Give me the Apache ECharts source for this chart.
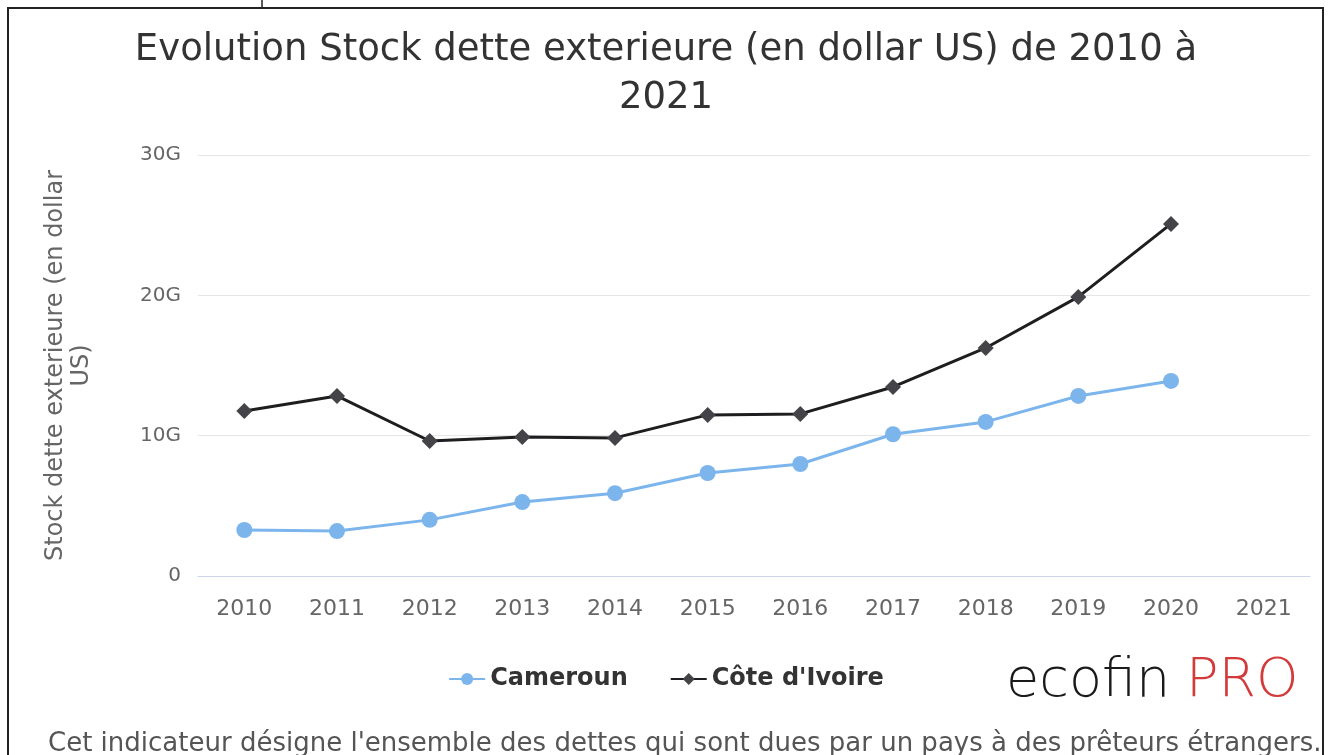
<!DOCTYPE html>
<html>
<head>
<meta charset="utf-8">
<script src="https://cdn.jsdelivr.net/npm/echarts@6/dist/echarts.min.js"></script>
<style>
  html, body { margin: 0; padding: 0; background: #fff; }
  #chart { width: 1332px; height: 755px; }
</style>
</head>
<body>
<div id="chart"></div>
<script>
// years on the x axis
const years = ['2010', '2011', '2012', '2013', '2014', '2015', '2016', '2017', '2018', '2019', '2020', '2021']
// external debt stock, in billions of US dollars (G)
const cameroun = [3.28, 3.2, 4.0, 5.27, 5.9, 7.34, 7.98, 10.1, 10.98, 12.83, 13.9, null]
const coteIvoire = [11.76, 12.83, 9.62, 9.9, 9.84, 11.48, 11.55, 13.47, 16.25, 19.89, 25.09, null]
const yTicks = [0, 10, 20, 30]

const chart = echarts.init(document.getElementById('chart'))

const option = {
  backgroundColor: '#fff',
  animation: false,
  textStyle: { fontFamily: 'DejaVu Sans' },
  title: {
    text: 'Evolution Stock dette exterieure (en dollar US) de 2010 à\n2021',
    left: 'center',
    top: 21,
    textStyle: {
      fontFamily: 'DejaVu Sans',
      fontSize: 37,
      fontWeight: 'normal',
      color: '#333',
      lineHeight: 48
    }
  },
  legend: {
    top: 662,
    left: 'center',
    itemWidth: 36,
    itemHeight: 15,
    itemGap: 42,
    textStyle: {
      fontFamily: 'DejaVu Sans',
      fontSize: 24,
      fontWeight: 'bold',
      color: '#333'
    },
    data: ['Cameroun', "Côte d'Ivoire"]
  },
  grid: {
    left: 198,
    right: 22,
    top: 155,
    bottom: 179
  },
  xAxis: {
    type: 'category',
    data: years,
    boundaryGap: true,
    axisLine: { lineStyle: { color: '#ccd6eb', width: 1 } },
    axisTick: { show: false },
    axisLabel: {
      color: '#666',
      fontSize: 22,
      margin: 22
    }
  },
  yAxis: {
    type: 'value',
    min: yTicks[0],
    max: yTicks[yTicks.length - 1],
    interval: 10,
    name: 'Stock dette exterieure (en dollar\nUS)',
    nameLocation: 'middle',
    nameGap: 103,
    nameTextStyle: {
      color: '#666',
      fontSize: 24,
      lineHeight: 26
    },
    axisLine: { show: false },
    axisTick: { show: false },
    splitLine: { lineStyle: { color: '#e6e6e6', width: 1 } },
    axisLabel: {
      color: '#666',
      fontSize: 20,
      margin: 17,
      formatter: v => (v === 0 ? '0' : v + 'G')
    }
  },
  series: [
    {
      name: 'Cameroun',
      type: 'line',
      data: cameroun,
      symbol: 'circle',
      symbolSize: 16,
      itemStyle: { color: '#7cb5ec' },
      lineStyle: { color: '#7cb5ec', width: 3 }
    },
    {
      name: "Côte d'Ivoire",
      type: 'line',
      data: coteIvoire,
      symbol: 'diamond',
      symbolSize: 16,
      itemStyle: { color: '#434348' },
      lineStyle: { color: '#1e1e20', width: 3 }
    }
  ],
  graphic: [
    {
      type: 'rect',
      shape: { x: 8, y: 8, width: 1315, height: 800 },
      style: { fill: 'none', stroke: '#222', lineWidth: 2 },
      silent: true
    },
    {
      type: 'line',
      shape: { x1: 262, y1: 0, x2: 262, y2: 8 },
      style: { stroke: '#222', lineWidth: 1.5 },
      silent: true
    },
    {
      type: 'text',
      left: 1006,
      top: 655,
      style: {
        text: 'ecofin',
        fontFamily: 'DejaVu Sans',
        fontWeight: 200,
        fontSize: 54,
        fill: '#1a1a1a'
      }
    },
    {
      type: 'text',
      left: 1186,
      top: 655,
      style: {
        text: 'PRO',
        fontFamily: 'DejaVu Sans',
        fontWeight: 200,
        fontSize: 54,
        fill: '#d33a3a'
      }
    },
    {
      type: 'text',
      left: 48,
      top: 731,
      style: {
        text: "Cet indicateur désigne l'ensemble des dettes qui sont dues par un pays à des prêteurs étrangers.",
        fontFamily: 'DejaVu Sans',
        fontSize: 26,
        fill: '#555'
      }
    }
  ]
}

chart.setOption(option)
</script>
</body>
</html>
